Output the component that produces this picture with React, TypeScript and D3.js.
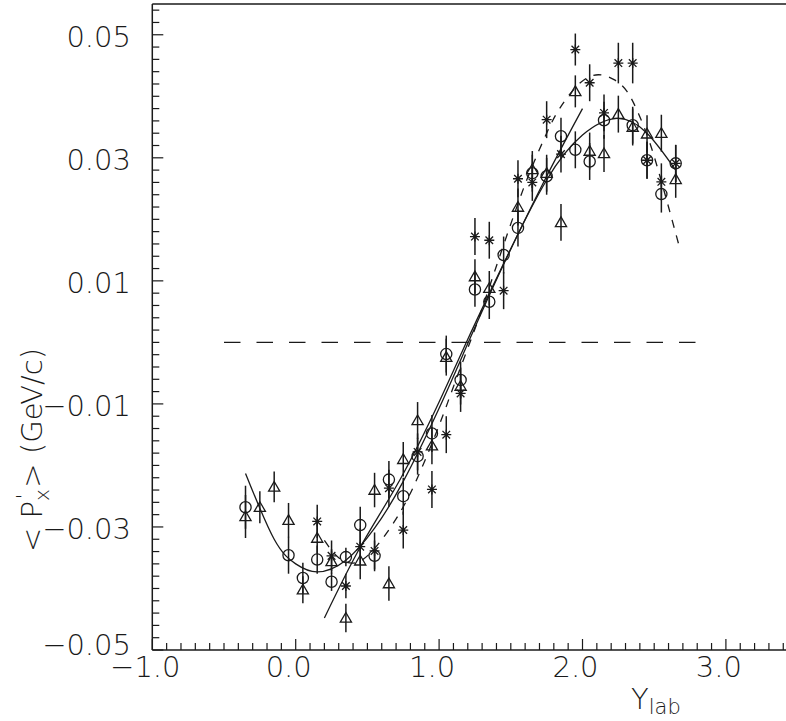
import React from 'react';
import * as d3 from 'd3';

// ---- data ----
const circleX = [-0.35, -0.05, 0.05, 0.15, 0.25, 0.35, 0.45, 0.55, 0.65, 0.75, 0.85, 0.95, 1.05, 1.15, 1.25, 1.35, 1.45, 1.55, 1.65, 1.75, 1.85, 1.95, 2.05, 2.15, 2.35, 2.45, 2.55, 2.65];
const circleY = [-0.0268, -0.0346, -0.0383, -0.0353, -0.0389, -0.0349, -0.0297, -0.0347, -0.0223, -0.0250, -0.0185, -0.0148, -0.0019, -0.0061, 0.0086, 0.0066, 0.0142, 0.0186, 0.0275, 0.0270, 0.0335, 0.0313, 0.0294, 0.0361, 0.0353, 0.0296, 0.0241, 0.0291];
const circleErr = [0.0035, 0.003, 0.0025, 0.0023, 0.0015, 0.0015, 0.003, 0.0025, 0.003, 0.003, 0.003, 0.003, 0.003, 0.003, 0.0028, 0.0028, 0.003, 0.003, 0.003, 0.003, 0.003, 0.003, 0.003, 0.003, 0.003, 0.003, 0.003, 0.003];

const triX = [-0.35, -0.25, -0.15, -0.05, 0.05, 0.15, 0.25, 0.35, 0.45, 0.55, 0.65, 0.75, 0.85, 0.95, 1.05, 1.15, 1.25, 1.35, 1.55, 1.65, 1.75, 1.85, 1.95, 2.05, 2.15, 2.25, 2.35, 2.45, 2.55, 2.65];
const triY = [-0.0283, -0.0268, -0.0235, -0.0289, -0.0402, -0.0318, -0.0356, -0.0448, -0.0355, -0.0240, -0.0392, -0.0190, -0.0127, -0.0168, -0.0024, -0.0071, 0.0107, 0.0088, 0.0220, 0.0281, 0.0275, 0.0195, 0.0408, 0.0311, 0.0307, 0.0371, 0.0350, 0.0339, 0.0340, 0.0265];
const triErr = [0.0035, 0.0026, 0.0025, 0.0028, 0.0022, 0.0025, 0.002, 0.0023, 0.003, 0.0028, 0.0028, 0.0028, 0.003, 0.003, 0.003, 0.003, 0.0028, 0.0028, 0.003, 0.003, 0.003, 0.003, 0.0026, 0.003, 0.003, 0.003, 0.003, 0.003, 0.003, 0.003];

const starX = [0.15, 0.25, 0.35, 0.45, 0.55, 0.65, 0.75, 0.85, 0.95, 1.05, 1.15, 1.25, 1.35, 1.45, 1.55, 1.65, 1.75, 1.85, 1.95, 2.05, 2.15, 2.25, 2.35, 2.45, 2.55, 2.65];
const starY = [-0.0291, -0.0347, -0.0396, -0.0332, -0.0339, -0.0237, -0.0305, -0.0178, -0.0239, -0.0150, -0.0083, 0.0172, 0.0166, 0.0084, 0.0266, 0.0260, 0.0362, 0.0306, 0.0476, 0.0422, 0.0373, 0.0454, 0.0454, 0.0296, 0.0261, 0.0291];
const starErr = [0.0027, 0.0025, 0.002, 0.003, 0.003, 0.003, 0.003, 0.003, 0.003, 0.003, 0.003, 0.003, 0.003, 0.003, 0.003, 0.003, 0.003, 0.003, 0.0026, 0.003, 0.003, 0.0033, 0.0033, 0.003, 0.003, 0.003];

// fitted curves
const fit1X = [-0.35, -0.15, 0.0, 0.15, 0.35, 0.55, 0.75, 1.0, 1.2, 1.45, 1.75, 2.0, 2.24, 2.45, 2.65];
const fit1Y = [-0.0213, -0.0320, -0.0360, -0.0373, -0.0354, -0.0302, -0.0226, -0.0107, -0.0002, 0.0127, 0.0264, 0.0337, 0.0364, 0.0340, 0.0280];
const fit2X = [0.2, 0.45, 0.73, 1.0, 1.2, 1.45, 1.75, 2.0];
const fit2Y = [-0.0448, -0.0333, -0.0222, -0.0097, 0.0005, 0.0128, 0.0270, 0.0380];
const fit3X = [0.2, 0.3, 0.42, 0.55, 0.7, 0.84, 1.0, 1.1, 1.22, 1.3, 1.42, 1.56, 1.66, 1.75, 1.84, 1.98, 2.11, 2.22, 2.31, 2.39, 2.47, 2.54, 2.6, 2.67];
const fit3Y = [-0.0322, -0.0350, -0.0358, -0.0335, -0.0287, -0.0225, -0.0135, -0.0072, 0.0003, 0.0055, 0.0138, 0.0232, 0.0292, 0.0340, 0.0380, 0.0421, 0.0435, 0.0427, 0.0408, 0.0372, 0.0324, 0.0270, 0.0220, 0.0160];

const zeroLineX = [-0.5, 2.8];

const xTickLabels = ['−1.0', '0.0', '1.0', '2.0', '3.0'];
const xTickValues = [-1, 0, 1, 2, 3];
const yTickLabels = ['−0.05', '−0.03', '−0.01', '0.01', '0.03', '0.05'];
const yTickValues = [-0.05, -0.03, -0.01, 0.01, 0.03, 0.05];

const W = 786;
const H = 721;
const INK = '#1a1a1a';
const FONT = '"DejaVu Sans", sans-serif';

export default function App() {
  const x = d3.scaleLinear().domain([-1, 4]).range([152.3, 869.3]);
  const y = d3.scaleLinear().domain([-0.05, 0.055]).range([650, 4]);
  const left = x(-1);
  const bottom = y(-0.05);
  const top = y(0.055);

  const xMinor = d3.range(0, 46).map((i) => -1 + i * 0.1);
  const yMinor = d3.range(0, 53).map((i) => -0.05 + i * 0.002);

  const line = d3
    .line<[number, number]>()
    .x((d) => x(d[0]))
    .y((d) => y(d[1]))
    .curve(d3.curveNatural);

  const pts = (xs: number[], ys: number[]) => xs.map((v, i) => [v, ys[i]] as [number, number]);

  const errBars = (xs: number[], ys: number[], es: number[], key: string) =>
    xs.map((v, i) => (
      <line
        key={key + i}
        x1={x(v)}
        x2={x(v)}
        y1={y(ys[i] - es[i])}
        y2={y(ys[i] + es[i])}
        stroke={INK}
        strokeWidth={1.5}
      />
    ));

  return (
    <svg
      width={W}
      height={H}
      style={{ position: 'absolute', left: 0, top: 0, background: '#fff' }}
      fontFamily={FONT}
    >
      <rect x={0} y={0} width={W} height={H} fill="#fff" />

      {/* frame */}
      <line x1={left} x2={W + 10} y1={top} y2={top} stroke={INK} strokeWidth={1.5} />
      <line x1={left} x2={left} y1={top} y2={bottom} stroke={INK} strokeWidth={1.5} />
      <line x1={left} x2={W + 10} y1={bottom} y2={bottom} stroke={INK} strokeWidth={1.5} />

      {/* x ticks */}
      {xMinor.map((v, i) => {
        const major = i % 10 === 0;
        return (
          <line
            key={'xt' + i}
            x1={x(v)}
            x2={x(v)}
            y1={bottom}
            y2={bottom - (major ? 11 : 7)}
            stroke={INK}
            strokeWidth={1.2}
          />
        );
      })}
      {/* y ticks */}
      {yMinor.map((v, i) => {
        const major = yTickValues.some((t) => Math.abs(t - v) < 1e-6);
        return (
          <line
            key={'yt' + i}
            x1={left}
            x2={left + (major ? 11 : 7)}
            y1={y(v)}
            y2={y(v)}
            stroke={INK}
            strokeWidth={1.2}
          />
        );
      })}

      {/* x tick labels */}
      {xTickValues.map((v, i) => (
        <text
          key={'xl' + i}
          x={x(v) - 7}
          y={677}
          textAnchor="middle"
          fontSize={29}
          fontWeight={200}
          fill={INK}
        >
          {xTickLabels[i]}
        </text>
      ))}
      {/* y tick labels */}
      {yTickValues.map((v, i) => (
        <text
          key={'yl' + i}
          x={131}
          y={y(v) + (i === 0 ? 5 : 12)}
          textAnchor="end"
          fontSize={29}
          fontWeight={200}
          fill={INK}
        >
          {yTickLabels[i]}
        </text>
      ))}

      {/* axis titles */}
      <text x={631} y={709} fontSize={29} fontWeight={200} fill={INK}>
        Y
        <tspan fontSize={21} dy={5}>
          lab
        </tspan>
      </text>
      <text
        transform="translate(42,552) rotate(-90)"
        fontSize={29}
        fontWeight={200}
        fill={INK}
      >
        {'< P'}
        <tspan fontSize={20} dy={7}>
          x
        </tspan>
        <tspan fontSize={20} dy={-19} dx={-10}>
          '
        </tspan>
        <tspan dy={12} dx={6}>
          {'> (GeV/c)'}
        </tspan>
      </text>

      {/* zero line */}
      <line
        x1={x(zeroLineX[0])}
        x2={x(zeroLineX[1])}
        y1={y(0)}
        y2={y(0)}
        stroke={INK}
        strokeWidth={1.3}
        strokeDasharray="16.5,16"
      />

      {/* fits */}
      <path d={line(pts(fit1X, fit1Y)) || ''} fill="none" stroke={INK} strokeWidth={1.3} />
      <path d={line(pts(fit2X, fit2Y)) || ''} fill="none" stroke={INK} strokeWidth={1.3} />
      <path
        d={line(pts(fit3X, fit3Y)) || ''}
        fill="none"
        stroke={INK}
        strokeWidth={1.3}
        strokeDasharray="8,8"
      />

      {/* error bars */}
      {errBars(circleX, circleY, circleErr, 'ce')}
      {errBars(triX, triY, triErr, 'te')}
      {errBars(starX, starY, starErr, 'se')}

      {/* markers */}
      {circleX.map((v, i) => (
        <circle
          key={'c' + i}
          cx={x(v)}
          cy={y(circleY[i])}
          r={5.6}
          fill="none"
          stroke={INK}
          strokeWidth={1.3}
        />
      ))}
      {triX.map((v, i) => (
        <path
          key={'t' + i}
          transform={`translate(${x(v)},${y(triY[i])})`}
          d="M0,-5.5 L5.6,4.2 L-5.6,4.2 Z"
          fill="none"
          stroke={INK}
          strokeWidth={1.3}
        />
      ))}
      {starX.map((v, i) => (
        <path
          key={'s' + i}
          transform={`translate(${x(v)},${y(starY[i])})`}
          d="M-5,0 L5,0 M0,-5 L0,5 M-3.8,-3.8 L3.8,3.8 M-3.8,3.8 L3.8,-3.8"
          fill="none"
          stroke={INK}
          strokeWidth={1.3}
        />
      ))}
    </svg>
  );
}
